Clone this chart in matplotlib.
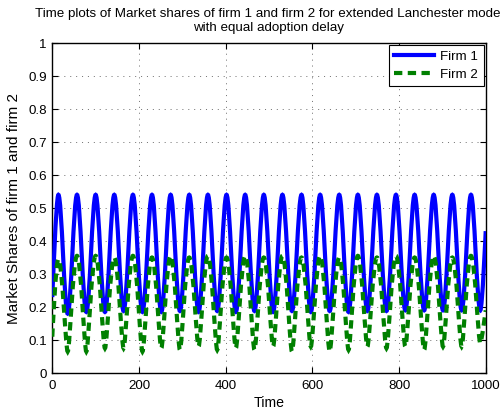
import matplotlib
matplotlib.use('Agg')
import matplotlib.pyplot as plt
from matplotlib.path import Path
from matplotlib.patches import PathPatch

plt.rcParams['font.family'] = ['Liberation Sans', 'DejaVu Sans']
plt.rcParams['font.size'] = 9.6

# times of the crests and the dips (both firms move in phase)
peak_t = [14, 57, 100, 143, 186, 230, 273, 316, 359, 402, 445, 488,
          531, 575, 618, 662, 705, 749, 793, 836, 880, 923, 966]
trough_t = [35.5, 78.5, 121.5, 164.5, 208, 251.5, 294.5, 337.5, 380.5, 423.5, 466.5, 509.5,
            553, 596.5, 640, 683.5, 727, 771, 814.5, 858, 901.5, 944.5, 987.5]

# firm 1 market share
firm1_start = 0.23
firm1_peak = [0.54, 0.54, 0.54, 0.54, 0.54, 0.54, 0.54, 0.54, 0.54, 0.54, 0.54, 0.54,
              0.54, 0.54, 0.54, 0.54, 0.54, 0.54, 0.54, 0.54, 0.54, 0.54, 0.54]
firm1_trough = [0.18, 0.185, 0.185, 0.188, 0.185, 0.185, 0.188, 0.185, 0.188, 0.185, 0.188, 0.185,
                0.188, 0.185, 0.188, 0.185, 0.188, 0.188, 0.19, 0.19, 0.19, 0.19, 0.19]
firm1_end = 0.43

# firm 2 market share
firm2_start = 0.11
firm2_peak = [0.345, 0.355, 0.355, 0.35, 0.355, 0.35, 0.355, 0.35, 0.355, 0.35, 0.355, 0.35,
              0.355, 0.35, 0.355, 0.35, 0.355, 0.35, 0.355, 0.35, 0.355, 0.35, 0.355]
firm2_trough = [0.065, 0.065, 0.075, 0.075, 0.065, 0.075, 0.07, 0.08, 0.07, 0.075, 0.07, 0.08,
                0.065, 0.08, 0.065, 0.07, 0.08, 0.075, 0.08, 0.07, 0.08, 0.08, 0.09]
firm2_end = 0.19

t_start, t_end = 0, 1000


def knots(start, peaks, troughs, end):
    t = [t_start]
    v = [start]
    for i in range(len(peak_t)):
        t += [peak_t[i], trough_t[i]]
        v += [peaks[i], troughs[i]]
    t.append(t_end)
    v.append(end)
    return t, v


def smooth_path(t, v, hold_peak, hold_trough):
    # cubic segments with flat tangents at every crest / dip
    hold = [0.0]
    for i in range(1, len(t) - 1):
        hold.append(hold_peak if v[i] > v[i - 1] else hold_trough)
    hold.append(0.0)
    verts = [(t[0], v[0])]
    codes = [Path.MOVETO]
    for i in range(len(t) - 1):
        dt = t[i + 1] - t[i]
        verts += [(t[i] + hold[i] * dt, v[i]),
                  (t[i + 1] - hold[i + 1] * dt, v[i + 1]),
                  (t[i + 1], v[i + 1])]
        codes += [Path.CURVE4] * 3
    return Path(verts, codes)


fig = plt.figure(figsize=(5.0, 4.09), dpi=100)
ax = fig.add_axes([0.1046, 0.088, 0.8668, 0.8067])

t1, v1 = knots(firm1_start, firm1_peak, firm1_trough, firm1_end)
t2, v2 = knots(firm2_start, firm2_peak, firm2_trough, firm2_end)

blue = (0, 0, 1)
green = (0, 0.5, 0)
dash = (0, (2.0, 1.3))
ax.add_patch(PathPatch(smooth_path(t1, v1, 0.36, 0.36), fill=False,
                       edgecolor=blue, lw=3.0, capstyle='butt', zorder=3))
ax.add_patch(PathPatch(smooth_path(t2, v2, 0.42, 0.22), fill=False,
                       edgecolor=green, lw=3.0, linestyle=dash,
                       capstyle='butt', zorder=4))

# proxies for the legend
ax.plot([], [], color=blue, lw=3.0, label='Firm 1')
ax.plot([], [], color=green, lw=3.0, ls=dash, label='Firm 2')

ax.set_xlim(0, 1000)
ax.set_ylim(0, 1)
ax.set_xticks(range(0, 1001, 200))
ax.set_yticks([i / 10 for i in range(11)])
ax.set_yticklabels(['0', '0.1', '0.2', '0.3', '0.4', '0.5', '0.6', '0.7', '0.8', '0.9', '1'])
ax.tick_params(direction='in', length=4, width=0.8, top=True, right=True)
ax.tick_params(axis='x', pad=5)
ax.tick_params(axis='y', pad=4)
for s in ax.spines.values():
    s.set_linewidth(1.0)
ax.grid(True, color='0.25', lw=0.5, linestyle=(0, (1.5, 7)))

ax.set_xlabel('Time', fontsize=10.2, labelpad=3)
ax.set_ylabel('Market Shares of firm 1 and firm 2', fontsize=11, labelpad=5)
ax.set_title('Time plots of Market shares of firm 1 and firm 2 for extended Lanchester model\n'
             'with equal adoption delay', fontsize=9.6, pad=9, linespacing=1.15)

leg = ax.legend(loc='upper right', borderaxespad=0.15, fancybox=False, framealpha=1,
                edgecolor='k', handlelength=3.0, handletextpad=0.45, labelspacing=0.45,
                borderpad=0.4, fontsize=9.6)
leg.get_frame().set_linewidth(0.8)

fig.savefig('out.png', dpi=100)
